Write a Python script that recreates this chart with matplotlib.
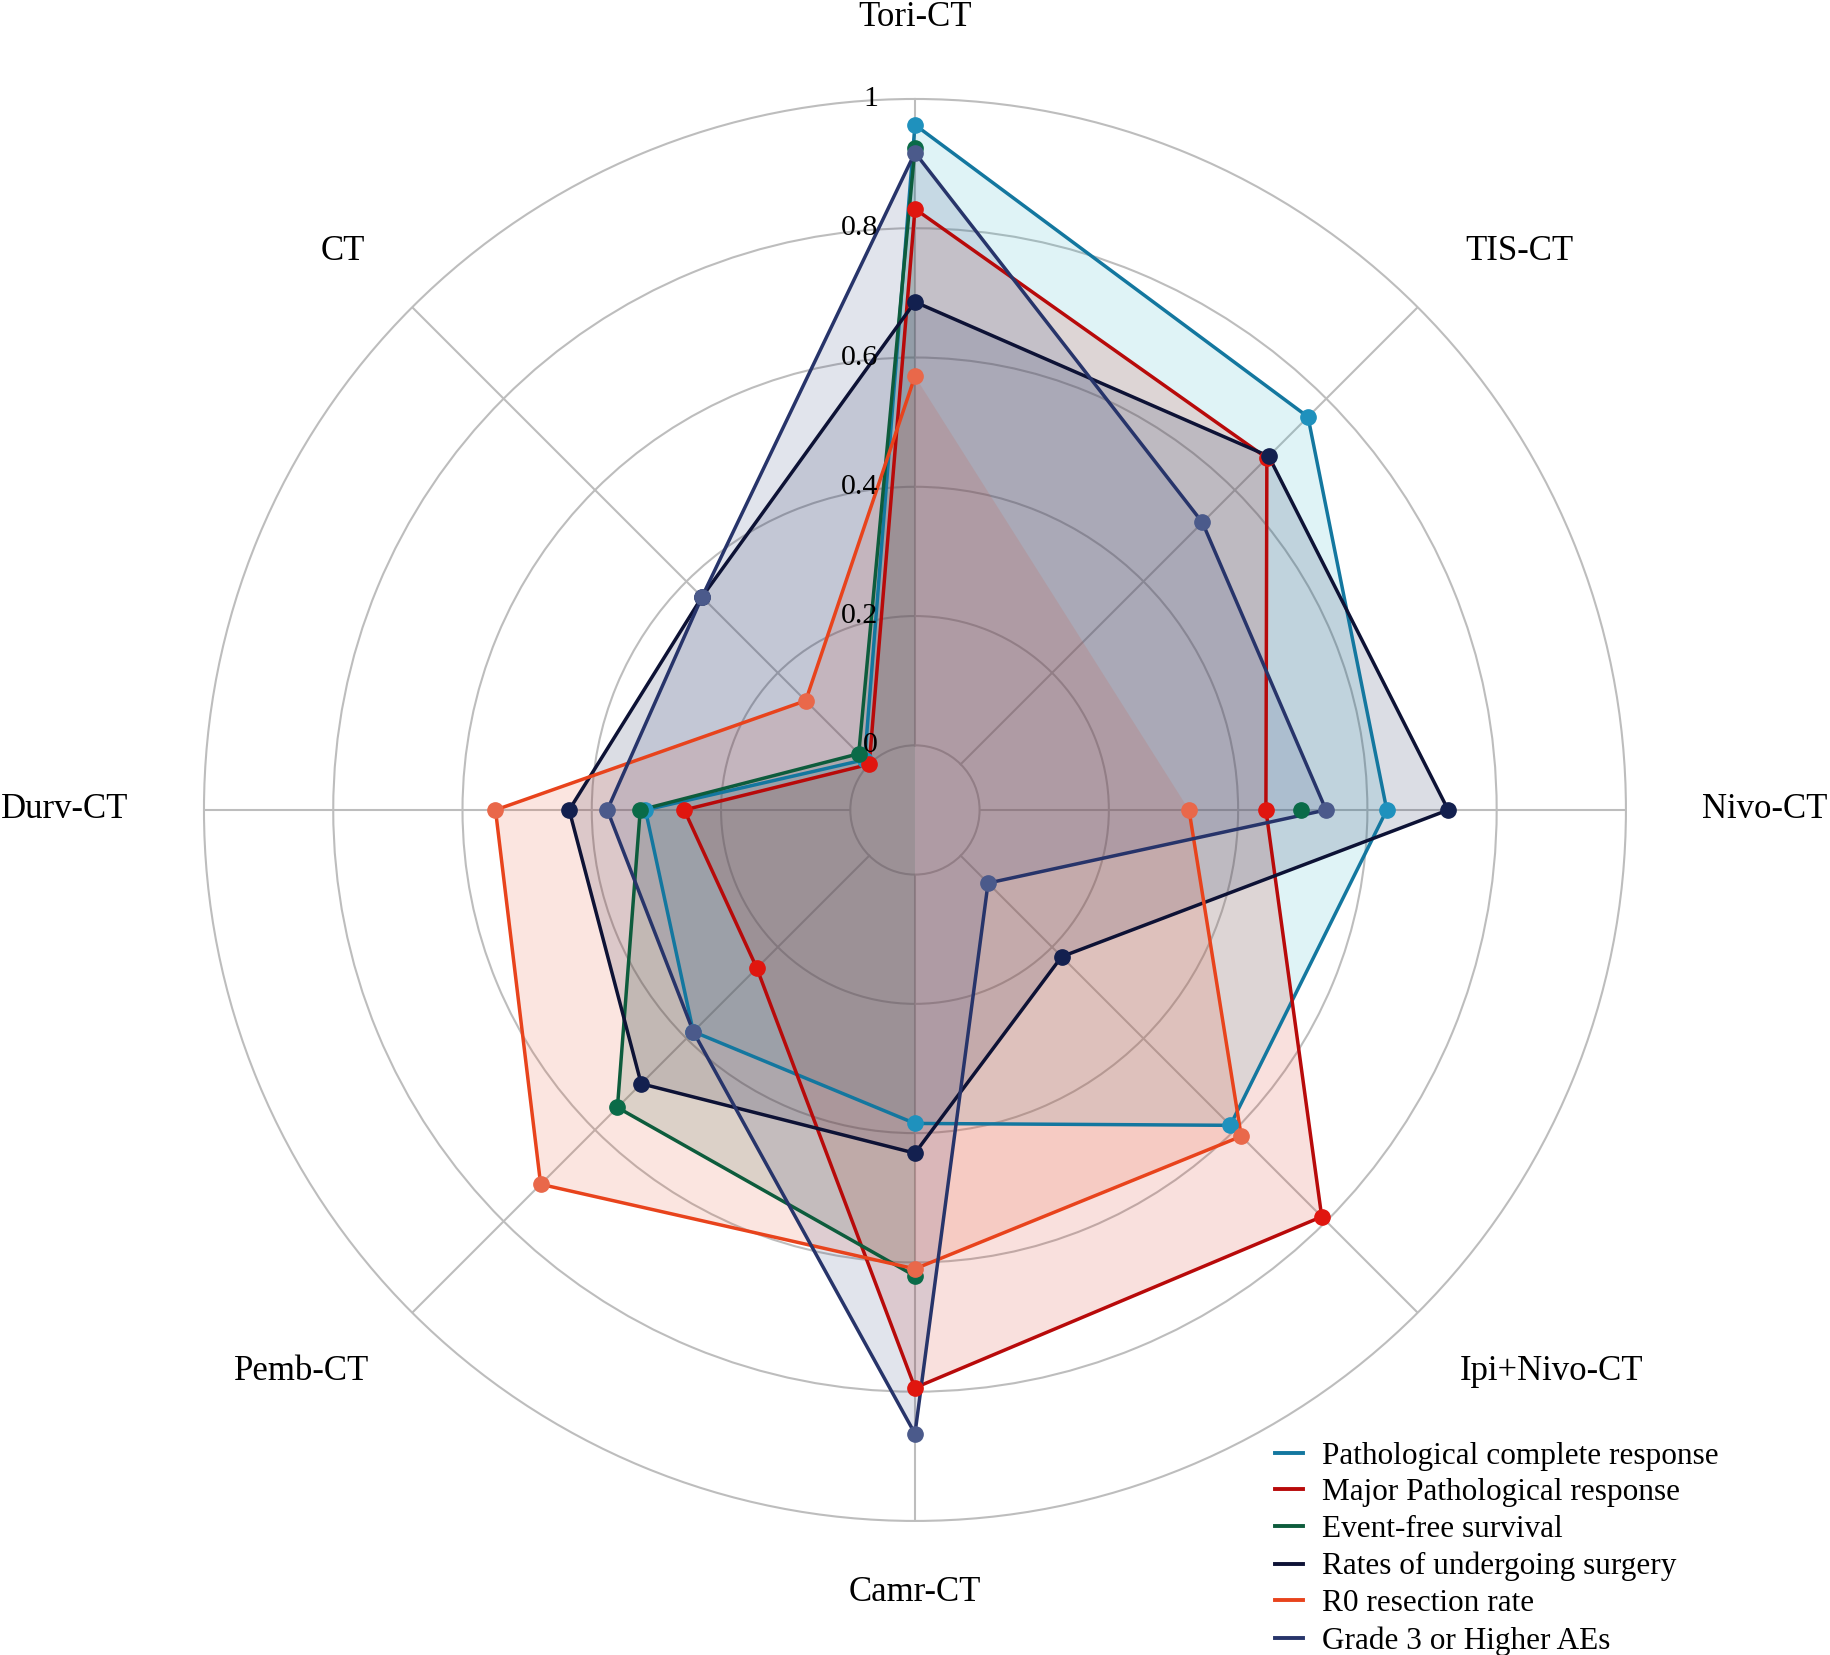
import numpy as np
import matplotlib
matplotlib.use('Agg')
import matplotlib.pyplot as plt
from matplotlib.lines import Line2D
from matplotlib.transforms import ScaledTranslation

plt.rcParams['font.family'] = ['Liberation Serif', 'DejaVu Serif']

# ---- data (NaN = no value reported) ----
categories = ['Tori-CT', 'TIS-CT', 'Nivo-CT', 'Ipi+Nivo-CT',
              'Camr-CT', 'Pemb-CT', 'Durv-CT', 'CT']
series_names = ['Pathological complete response', 'Major Pathological response',
                'Event-free survival', 'Rates of undergoing surgery',
                'R0 resection rate', 'Grade 3 or Higher AEs']

pcr = [0.96, 0.76, 0.63, 0.59, 0.385, 0.385, 0.317, 0.01]
mpr = [0.83, 0.67, 0.443, 0.79, 0.794, 0.246, 0.257, 0.0]
efs = [0.924, np.nan, 0.497, np.nan, 0.621, 0.551, 0.325, 0.023]
surgery = [0.686, 0.674, 0.725, 0.221, 0.431, 0.499, 0.435, 0.366]
r0 = [0.571, np.nan, 0.324, 0.614, 0.610, 0.719, 0.549, 0.139]
aes = [0.917, 0.529, 0.536, 0.06, 0.865, 0.385, 0.376, 0.366]

rticks = [0, 0.2, 0.4, 0.6, 0.8, 1.0]
rtick_labels = ['0', '0.2', '0.4', '0.6', '0.8', '1']

all_series = [pcr, mpr, efs, surgery, r0, aes]
line_colors = ['#13779f', '#b80a0a', '#0d5c3c', '#0d1235', '#e8431c', '#27346a']
marker_colors = ['#1f91bd', '#e0160f', '#0a6b48', '#13204f', '#e9684a', '#4b5a8b']
fill_colors = ['#2ab0c8', '#d8301c', '#0b6b48', '#13204f', '#e8542f', '#3b4a80']
grid_col = '#bdbdbd'

n = len(categories)
theta = np.linspace(0, 2 * np.pi, n, endpoint=False)
theta_c = np.append(theta, 2 * np.pi)

fig = plt.figure(figsize=(18.31, 16.55), dpi=100)
ax = fig.add_axes([0.1114, 0.0810, 0.7766, 0.8592], projection='polar')
ax.set_theta_zero_location('N')
ax.set_theta_direction(-1)

# spokes
for t in theta:
    ax.plot([t, t], [0, 1], color=grid_col, lw=1.5, zorder=0.5)


def runs(mask):
    # consecutive stretches of valid points
    out, start = [], None
    for i, m in enumerate(mask):
        if m and start is None:
            start = i
        if not m and start is not None:
            out.append((start, i))
            start = None
    if start is not None:
        out.append((start, len(mask)))
    return out


for vals, lc, mc, fc in zip(all_series, line_colors, marker_colors, fill_colors):
    v = np.array(vals, dtype=float)
    v_c = np.append(v, v[0])
    ok = ~np.isnan(v_c)
    for a, b in runs(ok):
        if b - a >= 3:
            ax.fill(theta_c[a:b], v_c[a:b], color=fc, alpha=0.15, lw=0, zorder=2)
    ax.plot(theta_c, v_c, color=lc, lw=2.5, zorder=3)
    ax.plot(theta, v, ls='none', marker='o', ms=11, mfc=mc, mec=mc, zorder=4)

ax.set_ylim(-0.1, 1.0)
ax.set_yticks(rticks[:-1])
ax.set_yticklabels([])
ax.set_xticks(theta)
ax.set_xticklabels([])
ax.xaxis.grid(False)
ax.yaxis.grid(True, color=grid_col, lw=1.5)
ax.spines['polar'].set_color(grid_col)
ax.spines['polar'].set_linewidth(1.5)

# radial tick labels along the top spoke
off = ax.transData + ScaledTranslation(-0.37, 0, fig.dpi_scale_trans)
for rv, lab in zip(rticks, rtick_labels):
    ax.text(0, rv, lab, transform=off, ha='right', va='center', fontsize=21.5, zorder=5)

# category labels
label_pos = [(1.113, 'center', 'baseline'), (1.104, 'left', 'baseline'),
             (1.117, 'left', 'center'), (1.093, 'left', 'top'),
             (1.085, 'center', 'top'), (1.093, 'right', 'top'),
             (1.117, 'right', 'center'), (1.104, 'right', 'baseline')]
for t, cat, (rr, ha, va) in zip(theta, categories, label_pos):
    ax.text(t, rr, cat, ha=ha, va=va, fontsize=25, clip_on=False)

handles = [Line2D([], [], color=c, lw=2.8) for c in line_colors]
fig.legend(handles, series_names, loc='upper left', bbox_to_anchor=(0.6963, 0.1290),
           bbox_transform=fig.transFigure, frameon=False, fontsize=22.5,
           handlelength=0.9, handletextpad=0.6, labelspacing=0.25,
           borderpad=0, borderaxespad=0)

fig.savefig('out.png', dpi=100)
